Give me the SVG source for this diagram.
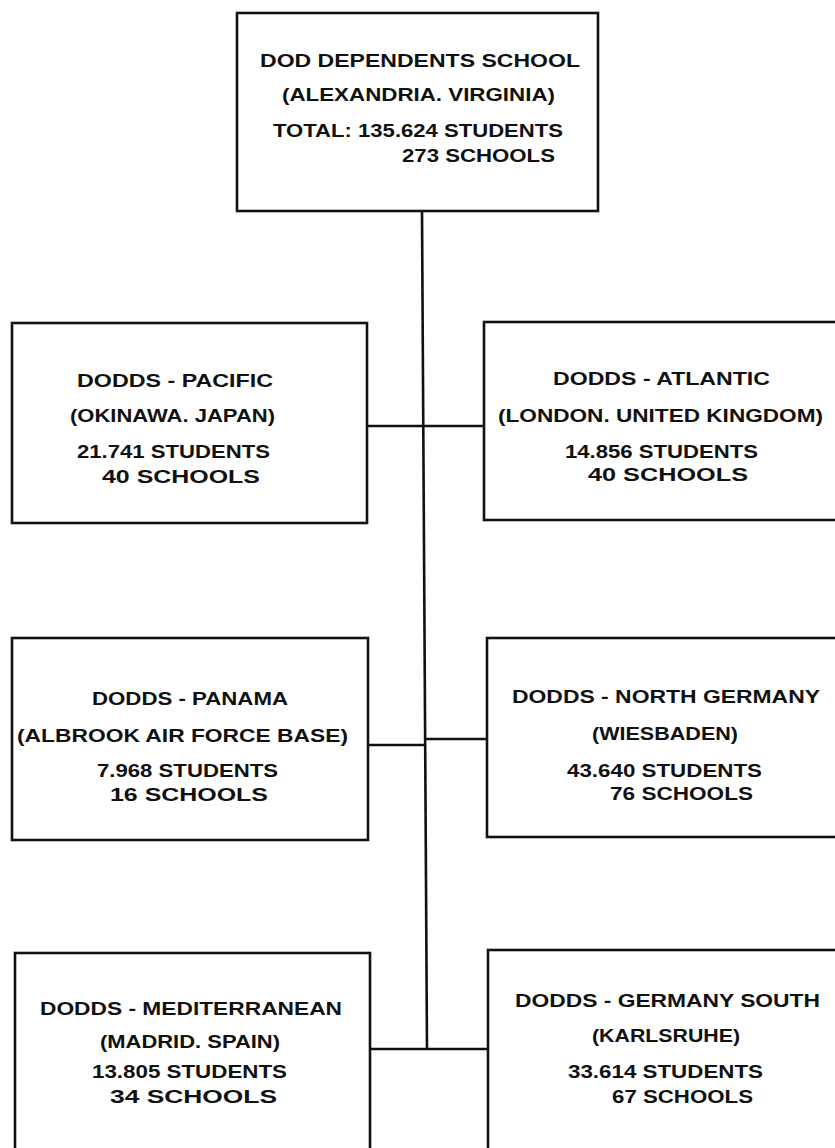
<svg xmlns="http://www.w3.org/2000/svg" width="835" height="1148" viewBox="0 0 835 1148">
<style>
.box{fill:#fff;stroke:#111;stroke-width:2.6}
.ln{stroke:#111;stroke-width:2.6;fill:none}
text{font-family:"Liberation Sans",Arial,sans-serif;font-weight:bold;font-size:18.5px;fill:#111}
</style>
<rect x="0" y="0" width="835" height="1148" fill="#fff"/>
<g id="connectors">
<line class="ln" x1="422" y1="211" x2="427" y2="1049"/>
<line class="ln" x1="367" y1="426" x2="484" y2="426"/>
<line class="ln" x1="368" y1="745" x2="425" y2="745"/>
<line class="ln" x1="425" y1="739" x2="487" y2="739"/>
<line class="ln" x1="370" y1="1049" x2="488" y2="1049"/>
</g>
<g id="hq">
<rect class="box" x="237" y="13" width="361" height="198"/>
<text x="260" y="67" textLength="320" lengthAdjust="spacingAndGlyphs">DOD DEPENDENTS SCHOOL</text>
<text x="282" y="101" textLength="273" lengthAdjust="spacingAndGlyphs">(ALEXANDRIA. VIRGINIA)</text>
<text x="273" y="137" textLength="290" lengthAdjust="spacingAndGlyphs">TOTAL: 135.624 STUDENTS</text>
<text x="402" y="162" textLength="153" lengthAdjust="spacingAndGlyphs">273 SCHOOLS</text>
</g>
<g id="pacific">
<rect class="box" x="12" y="323" width="355" height="200"/>
<text x="77" y="387" textLength="196" lengthAdjust="spacingAndGlyphs">DODDS - PACIFIC</text>
<text x="70" y="422" textLength="205" lengthAdjust="spacingAndGlyphs">(OKINAWA. JAPAN)</text>
<text x="77" y="458" textLength="193" lengthAdjust="spacingAndGlyphs">21.741 STUDENTS</text>
<text x="102" y="483" textLength="158" lengthAdjust="spacingAndGlyphs">40 SCHOOLS</text>
</g>
<g id="atlantic">
<rect class="box" x="484" y="322" width="362" height="198"/>
<text x="553" y="385" textLength="217" lengthAdjust="spacingAndGlyphs">DODDS - ATLANTIC</text>
<text x="498" y="422" textLength="325" lengthAdjust="spacingAndGlyphs">(LONDON. UNITED KINGDOM)</text>
<text x="565" y="458" textLength="193" lengthAdjust="spacingAndGlyphs">14.856 STUDENTS</text>
<text x="588" y="481" textLength="160" lengthAdjust="spacingAndGlyphs">40 SCHOOLS</text>
</g>
<g id="panama">
<rect class="box" x="12" y="638" width="356" height="202"/>
<text x="92" y="705" textLength="196" lengthAdjust="spacingAndGlyphs">DODDS - PANAMA</text>
<text x="17" y="742" textLength="331" lengthAdjust="spacingAndGlyphs">(ALBROOK AIR FORCE BASE)</text>
<text x="97" y="777" textLength="181" lengthAdjust="spacingAndGlyphs">7.968 STUDENTS</text>
<text x="110" y="801" textLength="158" lengthAdjust="spacingAndGlyphs">16 SCHOOLS</text>
</g>
<g id="north-germany">
<rect class="box" x="487" y="638" width="360" height="199"/>
<text x="512" y="703" textLength="308" lengthAdjust="spacingAndGlyphs">DODDS - NORTH GERMANY</text>
<text x="592" y="740" textLength="146" lengthAdjust="spacingAndGlyphs">(WIESBADEN)</text>
<text x="567" y="777" textLength="195" lengthAdjust="spacingAndGlyphs">43.640 STUDENTS</text>
<text x="610" y="800" textLength="143" lengthAdjust="spacingAndGlyphs">76 SCHOOLS</text>
</g>
<g id="mediterranean">
<rect class="box" x="15" y="953" width="355" height="210"/>
<text x="40" y="1015" textLength="302" lengthAdjust="spacingAndGlyphs">DODDS - MEDITERRANEAN</text>
<text x="100" y="1048" textLength="180" lengthAdjust="spacingAndGlyphs">(MADRID. SPAIN)</text>
<text x="92" y="1078" textLength="195" lengthAdjust="spacingAndGlyphs">13.805 STUDENTS</text>
<text x="110" y="1103" textLength="167" lengthAdjust="spacingAndGlyphs">34 SCHOOLS</text>
</g>
<g id="germany-south">
<rect class="box" x="488" y="950" width="360" height="213"/>
<text x="515" y="1007" textLength="305" lengthAdjust="spacingAndGlyphs">DODDS - GERMANY SOUTH</text>
<text x="592" y="1042" textLength="148" lengthAdjust="spacingAndGlyphs">(KARLSRUHE)</text>
<text x="568" y="1078" textLength="195" lengthAdjust="spacingAndGlyphs">33.614 STUDENTS</text>
<text x="612" y="1103" textLength="141" lengthAdjust="spacingAndGlyphs">67 SCHOOLS</text>
</g>
</svg>
